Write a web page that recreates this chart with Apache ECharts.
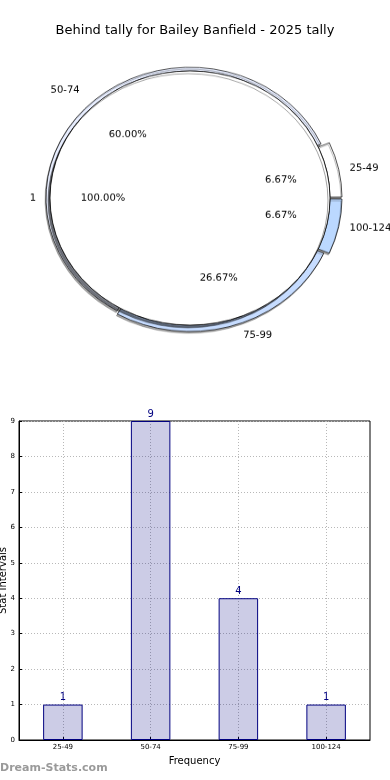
<!DOCTYPE html>
<html>
<head>
<meta charset="utf-8">
<script src="https://cdn.jsdelivr.net/npm/echarts@6/dist/echarts.min.js"></script>
<style>
html,body{margin:0;padding:0;background:#fff;}
#wrap{position:relative;width:390px;height:780px;overflow:hidden;}
#pie{position:absolute;left:0;top:0;width:390px;height:400px;transform:scaleY(0.908);transform-origin:190px 198px;}
#main{position:absolute;left:0;top:0;width:390px;height:780px;}
</style>
</head>
<body>
<div id="wrap"><div id="pie"></div><div id="main"></div></div>
<script>
const titleText = 'Behind tally for Bailey Banfield - 2025 tally';
const categories = ['25-49', '50-74', '75-99', '100-124'];
const counts = [1, 9, 4, 1];
const innerName = '1';
const innerValue = 15;
const yTicks = [0, 1, 2, 3, 4, 5, 6, 7, 8, 9];
const watermark = 'Dream-Stats.com';

// styles
const ringColors = ['#ffffff', '#e8eeff', '#c6dcff', '#bbd8ff'];
const ringOuter = [152, 144, 147, 152];
const FONT = 'DejaVu Sans';
const C = [190, 198];
const R_IN = 140;

const total = counts.reduce((a, b) => a + b, 0);
const pct = v => (v / total * 100).toFixed(2) + '%';
const clear = {color: 'rgba(0,0,0,0)', borderWidth: 0, shadowColor: 'rgba(0,0,0,0)'};

const pieSeries = [];
categories.forEach((c, i) => {
  pieSeries.push({
    type: 'pie', center: C, radius: [R_IN, ringOuter[i]], startAngle: 0, clockwise: false,
    silent: true, z: 2, padAngle: 0.8, label: {show: false}, labelLine: {show: false},
    emphasis: {disabled: true},
    data: categories.map((cc, j) => ({
      name: cc, value: counts[j],
      itemStyle: j === i ? {color: ringColors[j], borderColor: '#000', borderWidth: 0.7,
        shadowColor: 'rgba(0,0,0,0.35)', shadowBlur: 0, shadowOffsetX: -1, shadowOffsetY: 2} : clear
    }))
  });
});
pieSeries.push(
  {
    type: 'pie', center: C, radius: [0, R_IN], startAngle: 0, clockwise: false,
    silent: true, z: 3,
    data: [{name: innerName, value: innerValue}],
    itemStyle: {color: '#ffffff', borderColor: '#000', borderWidth: 0.8,
      shadowColor: 'rgba(0,0,0,0.45)', shadowBlur: 0, shadowOffsetX: -2, shadowOffsetY: 3},
    label: {show: true, position: 'outside', fontFamily: FONT, fontSize: 10, color: '#000',
      distanceToLabelLine: 4, formatter: '{b}'},
    labelLine: {show: false, length: 10, length2: 0},
    avoidLabelOverlap: false, emphasis: {disabled: true}
  },
  {
    type: 'pie', center: C, radius: [0, 150], startAngle: 0, clockwise: false,
    silent: true, z: 4,
    data: categories.map((c, i) => ({name: c, value: counts[i]})),
    itemStyle: clear,
    label: {show: true, position: 'outside', fontFamily: FONT, fontSize: 10, color: '#000',
      distanceToLabelLine: 4, formatter: '{b}'},
    labelLine: {show: false, length: 9, length2: 0},
    avoidLabelOverlap: false, emphasis: {disabled: true}
  },
  {
    type: 'pie', center: C, radius: [0, 180], startAngle: 0, clockwise: false,
    silent: true, z: 4,
    data: categories.map((c, i) => ({name: c, value: counts[i]})),
    itemStyle: clear,
    label: {show: true, position: 'inside', fontFamily: FONT, fontSize: 10, color: '#000',
      formatter: p => pct(p.value)},
    labelLine: {show: false}, emphasis: {disabled: true}
  },
  {
    type: 'pie', center: C, radius: [0, 168], startAngle: 0, clockwise: false,
    silent: true, z: 4,
    data: [{name: innerName, value: innerValue}],
    itemStyle: clear,
    label: {show: true, position: 'inside', fontFamily: FONT, fontSize: 10, color: '#000',
      formatter: p => (p.value / innerValue * 100).toFixed(2) + '%'},
    labelLine: {show: false}, emphasis: {disabled: true}
  }
);

const pieChart = echarts.init(document.getElementById('pie'));
pieChart.setOption({animation: false, backgroundColor: 'transparent', textStyle: {fontFamily: FONT}, series: pieSeries});

const chart = echarts.init(document.getElementById('main'));
chart.setOption({
  animation: false,
  backgroundColor: 'transparent',
  textStyle: {fontFamily: FONT},
  title: {
    text: titleText, left: 'center', top: 19,
    textStyle: {fontFamily: FONT, fontSize: 13, fontWeight: 'normal', color: '#000'}
  },
  graphic: [{
    type: 'text', left: 0, top: 763,
    style: {text: watermark, fill: '#9a9a9a', font: 'bold 11px "DejaVu Sans"'}
  }],
  grid: {
    left: 19, right: 20, top: 421, bottom: 40, outerBoundsMode: 'none', containLabel: false,
    show: true, borderColor: '#000', borderWidth: 1, backgroundColor: 'transparent'
  },
  xAxis: {
    type: 'category', data: categories,
    name: 'Frequency', nameLocation: 'middle', nameGap: 16,
    nameTextStyle: {fontFamily: FONT, fontSize: 10, color: '#000'},
    axisLine: {show: true, lineStyle: {color: '#000'}},
    axisTick: {show: true, inside: true, length: 3, alignWithLabel: true, lineStyle: {color: '#000'}},
    axisLabel: {fontFamily: FONT, fontSize: 7, color: '#000', margin: 4},
    splitLine: {show: true, alignWithLabel: true, lineStyle: {color: '#b8b8b8', type: [1, 2], width: 1}}
  },
  yAxis: {
    type: 'value', min: 0, max: 9, interval: 1,
    name: 'Stat Intervals', nameLocation: 'middle', nameGap: 11, nameRotate: 90, nameMoveOverlap: false,
    nameTextStyle: {fontFamily: FONT, fontSize: 10, color: '#000'},
    axisLine: {show: true, lineStyle: {color: '#000'}},
    axisTick: {show: true, inside: true, length: 3, lineStyle: {color: '#000'}},
    axisLabel: {fontFamily: FONT, fontSize: 7, color: '#000', margin: 4,
      formatter: v => yTicks.indexOf(v) >= 0 ? String(v) : ''},
    splitLine: {show: true, lineStyle: {color: '#b8b8b8', type: [1, 2], width: 1}}
  },
  series: [{
    type: 'bar', name: 'counts', data: counts, barWidth: '45%',
    itemStyle: {color: 'rgba(0,0,128,0.2)', borderColor: '#000080', borderWidth: 1},
    label: {show: true, position: 'top', distance: 2, fontFamily: FONT, fontSize: 10, color: '#000080'},
    emphasis: {disabled: true}
  }]
});
</script>
</body>
</html>
